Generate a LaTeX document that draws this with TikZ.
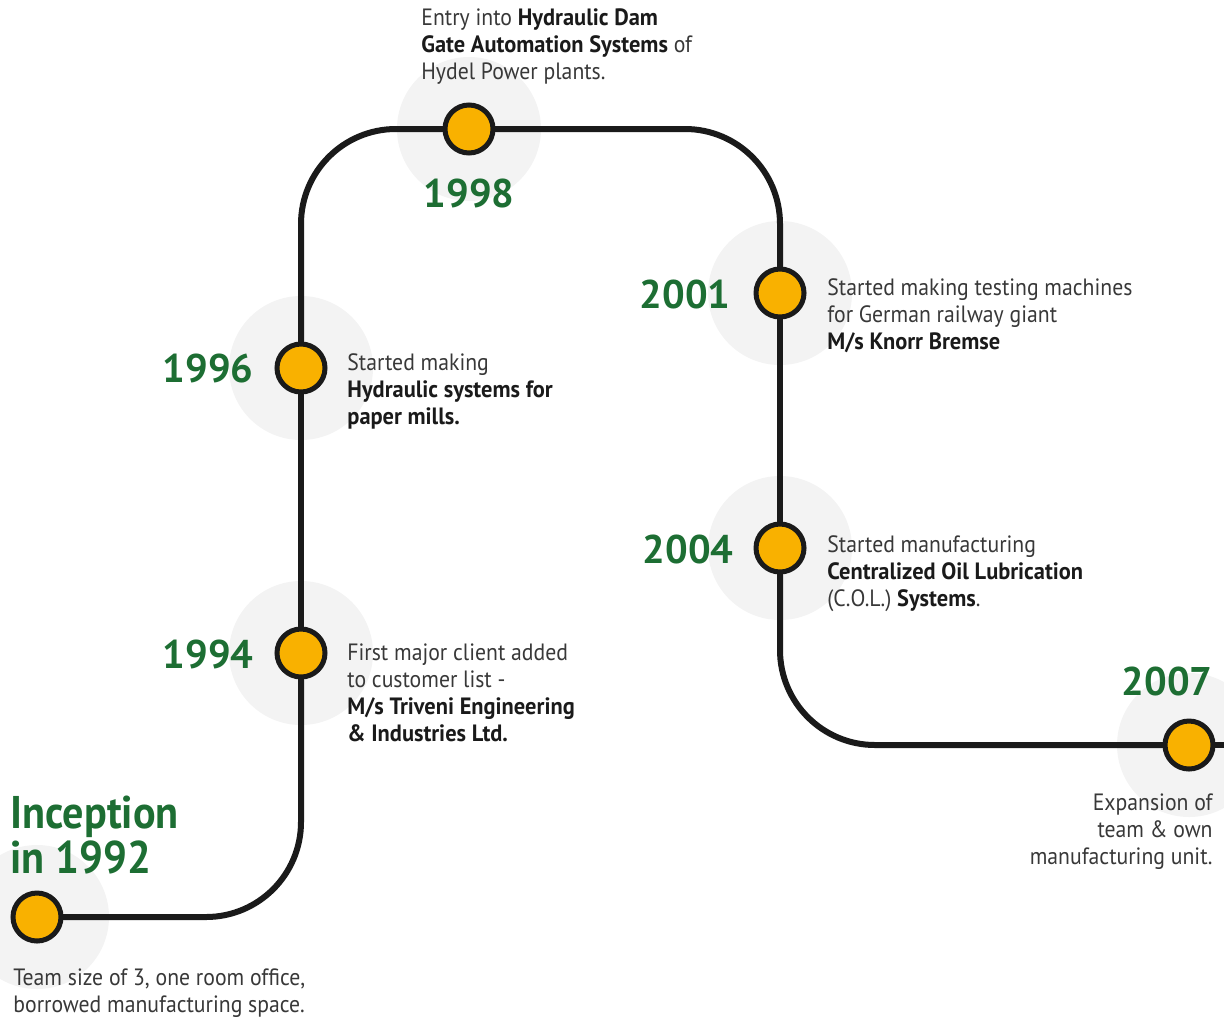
\documentclass[tikz,border=0pt]{standalone}
\usepackage{fontspec}
\setmainfont{PT Sans}[UprightFeatures={FakeStretch=0.92},BoldFeatures={FakeStretch=0.95}]
\newfontfamily\incfont{PT Sans}[UprightFeatures={FakeStretch=0.92},BoldFeatures={FakeStretch=0.92}]
\newfontfamily\yearfont{PT Sans}
\definecolor{tlgreen}{HTML}{1D6E33}
\definecolor{tlorange}{HTML}{F9B100}
\definecolor{tlline}{HTML}{1A1A1A}
\definecolor{tlhalo}{HTML}{F3F3F3}
\definecolor{tltext}{HTML}{383838}
\pgfdeclarelayer{back}
\pgfdeclarelayer{mid}
\pgfsetlayers{back,mid,main}
\newcommand{\desctext}[1]{{\fontsize{11.8}{13.5}\selectfont\begin{tabular}[t]{@{}l@{}}#1\end{tabular}}}
\newcommand{\descright}[1]{{\fontsize{11.8}{13.5}\selectfont\begin{tabular}[t]{@{}r@{}}#1\end{tabular}}}
\newcommand{\tlbold}[1]{{\color{tlline}\textbf{#1}}}
\tikzset{
  milestone/.style={circle, draw=tlline, fill=tlorange, line width=2.5pt, minimum size=24pt, inner sep=0pt},
  halo/.style={fill=tlhalo, draw=none},
  yearlbl/.style={text=tlgreen, font=\yearfont\fontsize{20}{24}\selectfont\bfseries, inner sep=0pt},
  desc/.style={text=tltext, inner sep=0pt, anchor=base west},
  timeline/.style={draw=tlline, line width=3pt, rounded corners=47.5pt}
}
\begin{document}
\begin{tikzpicture}[x=0.5pt,y=-0.5pt]
\useasboundingbox (0,0) rectangle (1224,1018);
% milestones
\node[milestone] (n1992) at (37,917) {};
\node[milestone] (n1994) at (301,653) {};
\node[milestone] (n1996) at (301,368) {};
\node[milestone] (n1998) at (469,129) {};
\node[milestone] (n2001) at (780,293) {};
\node[milestone] (n2004) at (780,548) {};
\node[milestone] (n2007) at (1189,745) {};
\coordinate (tlend) at (1224,745);
\coordinate (c1) at (n1994 |- n1992);
\coordinate (c2) at (n1996 |- n1998);
\coordinate (c3) at (n2001 |- n1998);
\coordinate (c4) at (n2004 |- n2007);
% halos
\begin{pgfonlayer}{back}
\foreach \n in {n1992,n1994,n1996,n1998,n2001,n2004,n2007}
  \fill[halo] (\n.center) circle (36pt);
\end{pgfonlayer}
% line
\begin{pgfonlayer}{mid}
\draw[timeline] (n1992.center) -- (c1) -- (n1994.center);
\draw[timeline] (n1994.center) -- (n1996.center);
\draw[timeline] (n1996.center) -- (c2) -- (n1998.center);
\draw[timeline] (n1998.center) -- (c3) -- (n2001.center);
\draw[timeline] (n2001.center) -- (n2004.center);
\draw[timeline] (n2004.center) -- (c4) -- (n2007.center);
\draw[timeline] (n2007.center) -- (tlend);
\end{pgfonlayer}
% years
\node[text=tlgreen, inner sep=0pt, anchor=base west, font=\incfont\fontsize{22.9}{21.5}\selectfont\bfseries] (tinc) at (10,828)
  {\begin{tabular}[t]{@{}l@{}}Inception\\[0pt]in 1992\end{tabular}};
\node[yearlbl, anchor=base east] (y1994) at (254,668) {1994};
\node[yearlbl, anchor=base east] (y1996) at (254,382) {1996};
\node[yearlbl, anchor=base] (y1998) at (469,207) {1998};
\node[yearlbl, anchor=base east] (y2001) at (731,308) {2001};
\node[yearlbl, anchor=base east] (y2004) at (734,563) {2004};
\node[yearlbl, anchor=base east] (y2007) at (1213,695) {2007};
% descriptions
\node[desc] (d1992) at (13,985) {\desctext{Team size of 3, one room office,\\borrowed manufacturing space.}};
\node[desc] (d1994) at (347,660) {\desctext{First major client added\\to customer list -\\\tlbold{M/s Triveni Engineering}\\\tlbold{\& Industries Ltd.}}};
\node[desc] (d1996) at (347,370) {\desctext{Started making\\\tlbold{Hydraulic systems for}\\\tlbold{paper mills.}}};
\node[desc] (d1998) at (421,25) {\desctext{Entry into \tlbold{Hydraulic Dam}\\\tlbold{Gate Automation Systems} of\\Hydel Power plants.}};
\node[desc] (d2001) at (827,295) {\desctext{Started making testing machines\\for German railway giant\\\tlbold{M/s Knorr Bremse}}};
\node[desc] (d2004) at (827,552) {\desctext{Started manufacturing\\\tlbold{Centralized Oil Lubrication}\\(C.O.L.) \tlbold{Systems}.}};
\node[desc, anchor=base east] (d2007) at (1213,810) {\descright{Expansion of\\team \& own\\manufacturing unit.}};
\end{tikzpicture}
\end{document}
